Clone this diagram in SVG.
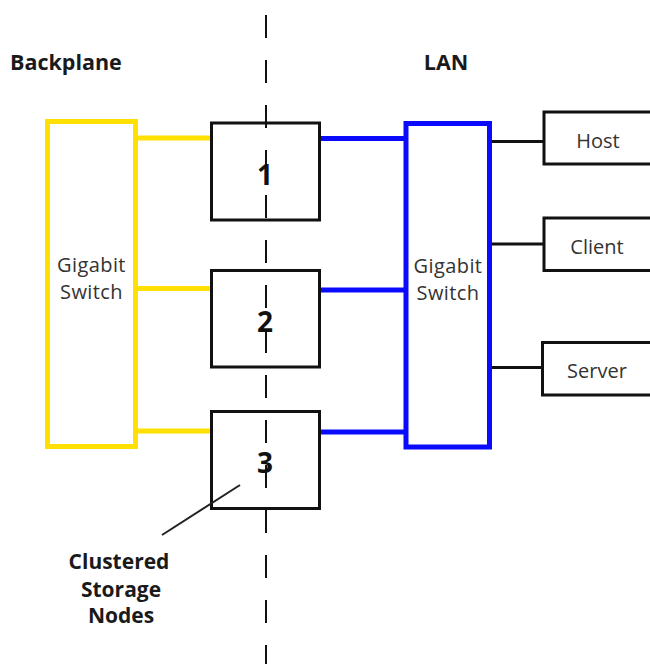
<svg xmlns="http://www.w3.org/2000/svg" width="650" height="664" viewBox="0 0 650 664">
<style>
.yl{stroke:#FFE000;stroke-width:5;fill:none}
.bl{stroke:#0A0AFF;stroke-width:5;fill:none}
.bk{stroke:#111;stroke-width:3;fill:none}
.node{fill:#fff;stroke:#111;stroke-width:3}
.hdr{font-family:"Open Sans","Liberation Sans",sans-serif;font-weight:bold;font-size:21.5px;fill:#1a1a1a}
.lbl{font-family:"Open Sans","Liberation Sans",sans-serif;font-size:20px;fill:#333;text-anchor:middle}
.sw{letter-spacing:0.4px}
.num{font-family:"Open Sans","Liberation Sans",sans-serif;font-weight:bold;font-size:28px;fill:#111;text-anchor:middle}
.cap{font-family:"Open Sans","Liberation Sans",sans-serif;font-weight:bold;font-size:21px;fill:#1a1a1a;text-anchor:middle}
</style>
<rect width="650" height="664" fill="#fff"/>
<g id="connectors">
  <line class="yl" x1="136" y1="138" x2="212" y2="138"/>
  <line class="yl" x1="136" y1="288.5" x2="212" y2="288.5"/>
  <line class="yl" x1="136" y1="431" x2="212" y2="431"/>
  <line class="bl" x1="320" y1="138.5" x2="406" y2="138.5"/>
  <line class="bl" x1="320" y1="290" x2="406" y2="290"/>
  <line class="bl" x1="320" y1="432" x2="406" y2="432"/>
  <line class="bk" x1="490" y1="141.5" x2="544" y2="141.5"/>
  <line class="bk" x1="490" y1="244" x2="544" y2="244"/>
  <line class="bk" x1="490" y1="367.5" x2="543" y2="367.5"/>
</g>
<g id="backplane-switch">
  <rect class="yl" x="47.5" y="121.5" width="88" height="325"/>
  <text class="lbl sw" x="91.5" y="271.5">Gigabit</text>
  <text class="lbl sw" x="91.5" y="298.5">Switch</text>
</g>
<g id="lan-switch">
  <rect class="bl" x="406" y="123.5" width="83.5" height="323.5"/>
  <text class="lbl sw" x="448" y="272.5">Gigabit</text>
  <text class="lbl sw" x="448" y="300">Switch</text>
</g>
<g id="node1">
  <rect class="node" x="211.5" y="123" width="108" height="97"/>
  <text class="num" x="265" y="185">1</text>
</g>
<g id="node2">
  <rect class="node" x="211.5" y="270.5" width="108" height="96.5"/>
  <text class="num" x="265" y="332">2</text>
</g>
<g id="node3">
  <rect class="node" x="211.5" y="411.5" width="108" height="97"/>
  <text class="num" x="265" y="473">3</text>
</g>
<g id="host">
  <rect class="node" x="544" y="112" width="120" height="52"/>
  <text class="lbl" x="598" y="148">Host</text>
</g>
<g id="client">
  <rect class="node" x="544" y="218" width="120" height="52.5"/>
  <text class="lbl" x="597" y="254">Client</text>
</g>
<g id="server">
  <rect class="node" x="542.5" y="342.5" width="120" height="52.5"/>
  <text class="lbl" x="597" y="378">Server</text>
</g>
<g id="labels">
  <text class="hdr" x="10" y="70">Backplane</text>
  <text class="hdr" x="446" y="70" text-anchor="middle">LAN</text>
  <line stroke="#222" stroke-width="2" x1="162" y1="535" x2="240" y2="485"/>
  <text class="cap" x="119" y="569">Clustered</text>
  <text class="cap" x="121" y="597">Storage</text>
  <text class="cap" x="121" y="623">Nodes</text>
</g>
<g id="divider">
  <line x1="266" y1="15" x2="266" y2="664" stroke="#111" stroke-width="2" stroke-dasharray="23 22"/>
</g>
</svg>
